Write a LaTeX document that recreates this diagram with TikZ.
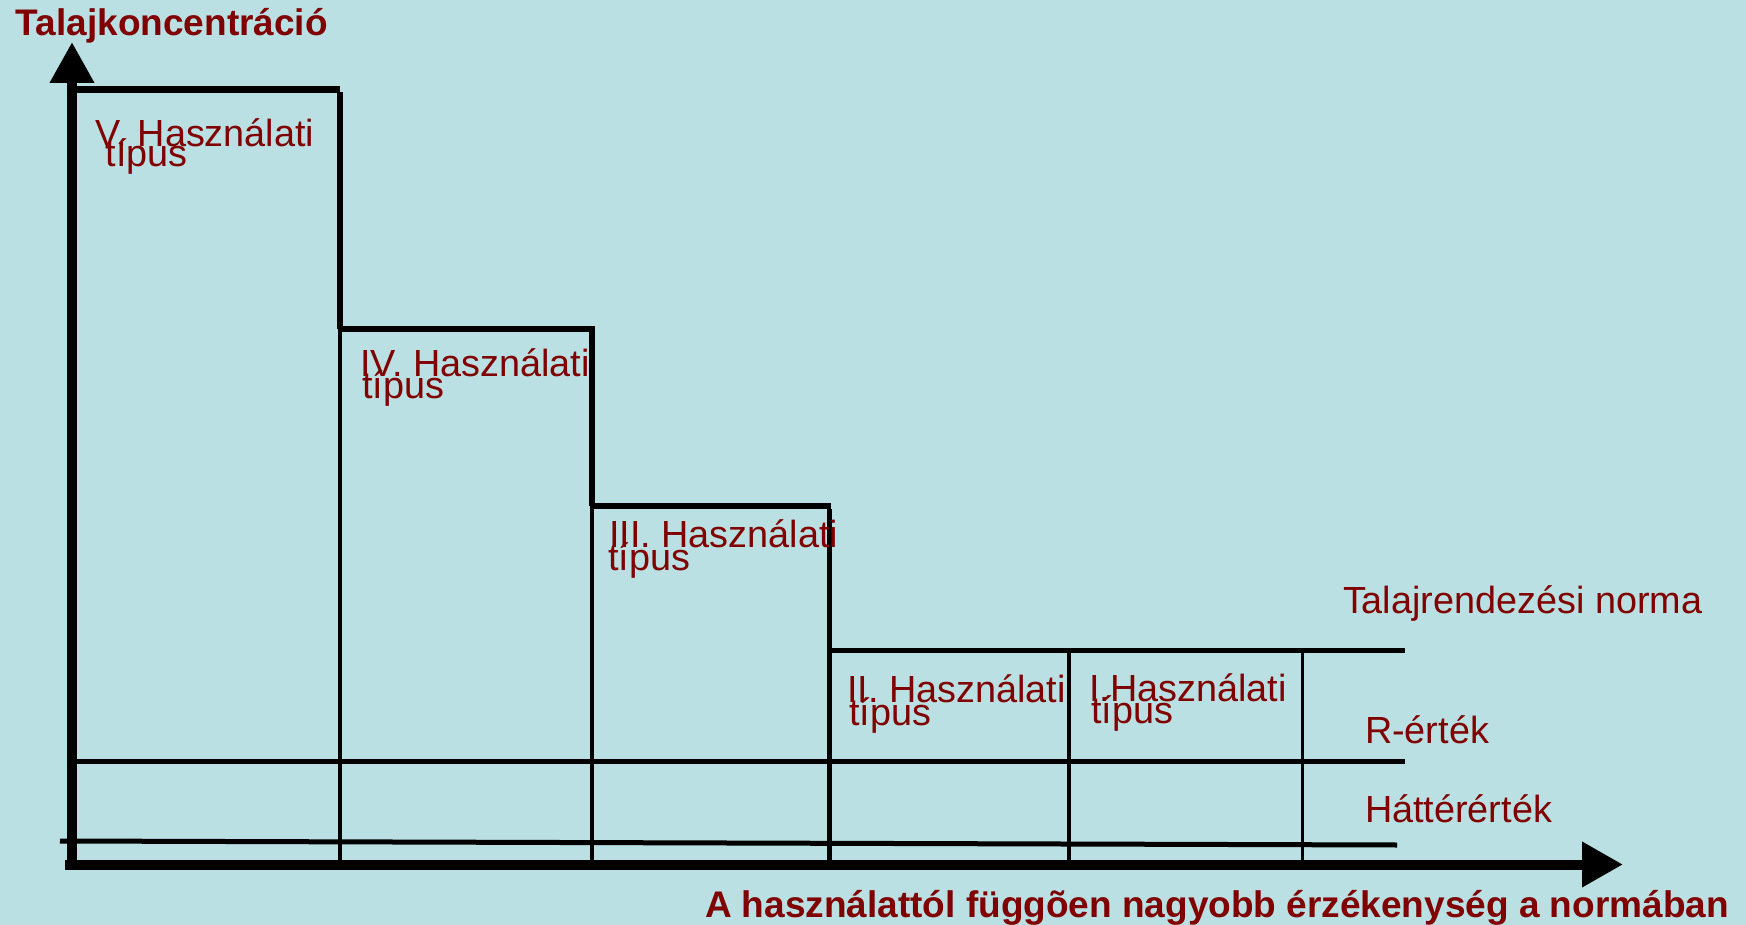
\documentclass[tikz,border=0pt]{standalone}
\usepackage{fontspec}
\setmainfont{Liberation Sans}
\usetikzlibrary{arrows.meta}
\definecolor{bg}{RGB}{186,224,227}
\definecolor{txt}{RGB}{128,0,0}
\begin{document}
\begin{tikzpicture}[x=1pt,y=-1pt,
  lbl/.style={anchor=base west, inner sep=0pt, outer sep=0pt, text=txt, font=\fontsize{37.8}{37.8}\selectfont},
  axlbl/.style={anchor=base west, inner sep=0pt, outer sep=0pt, text=txt, font=\bfseries\fontsize{37}{37}\selectfont},
  yaxisline/.style={line width=10pt, -{Triangle[width=42pt,length=41pt]}},
  xaxisline/.style={line width=10pt, -{Triangle[width=43pt,length=41pt]}},
  boldline/.style={line width=6pt},
  midline/.style={line width=5pt},
  thinline/.style={line width=3.5pt}]
\useasboundingbox (0,0) rectangle (1746,925);
\fill[bg] (0,0) rectangle (1746,925);

% coordinates
\coordinate (O) at (72,869);
\coordinate (Ytop) at (72,42);
\coordinate (Xs) at (65,864.5);
\coordinate (Xe) at (1623,864.5);
\coordinate (V0) at (72,89.5);
\coordinate (V1) at (340,89.5);
\coordinate (V2) at (340,329);
\coordinate (V3) at (340,864);
\coordinate (IV1) at (595,329);
\coordinate (IV2) at (592,506);
\coordinate (IV3) at (592,864);
\coordinate (III1) at (831,506);
\coordinate (III2) at (829,650);
\coordinate (III3) at (829,864);
\coordinate (N1) at (1405,650);
\coordinate (Ia) at (1069,650);
\coordinate (Ib) at (1069,864);
\coordinate (Ic) at (1302,650);
\coordinate (Id) at (1302,864);
\coordinate (R0) at (72,761);
\coordinate (R1) at (1405,761);
\coordinate (H0) at (60,841);
\coordinate (H1) at (1397,845);

% steps
\draw[line width=7pt] (V0) -- (V1);
\draw[boldline] ([yshift=-3pt]V1) -- (V2);
\draw[line width=4pt] (V2) -- (V3);
\draw[boldline] (V2) -- (IV1);
\draw[boldline] ([yshift=-3pt]592,329) -- (IV2);
\draw[thinline] (IV2) -- (IV3);
\draw[boldline] (IV2) -- (III1);
\draw[midline] ([yshift=-3pt]829,506) -- (III3);
\draw[midline] (III2) -- (N1);
\draw[line width=4pt] (Ia) -- (Ib);
\draw[line width=3pt] (Ic) -- (Id);
\draw[midline] (R0) -- (R1);
\draw[midline] (H0) -- (H1);

% axes
\draw[yaxisline] (O) -- (Ytop);
\draw[xaxisline] (Xs) -- (Xe);

% labels
\node[axlbl] (ylab) at (16,36) {Talajkoncentráció};
\node[axlbl] (xlab) at (705,917) {A használattól függõen nagyobb érzékenység a normában};

\node[lbl] (t5a) at (95,147) {V. Használati};
\node[lbl] (t5b) at (95,167) {\hspace*{0.278em}típus};
\node[lbl] (t4a) at (360,376) {IV. Használati};
\node[lbl] (t4b) at (362,399) {típus};
\node[lbl] (t3a) at (609,547) {III. Használati};
\node[lbl] (t3b) at (608,570) {típus};
\node[lbl] (t2a) at (847,702) {II. Használati};
\node[lbl] (t2b) at (849,725) {típus};
\node[lbl] (t1a) at (1089,701) {I.Használati};
\node[lbl] (t1b) at (1091,723) {típus};

\node[lbl] (norma) at (1343,613) {Talajrendezési norma};
\node[lbl] (rert) at (1365,743) {R-érték};
\node[lbl] (hatt) at (1365,822) {Háttérérték};
\end{tikzpicture}
\end{document}
